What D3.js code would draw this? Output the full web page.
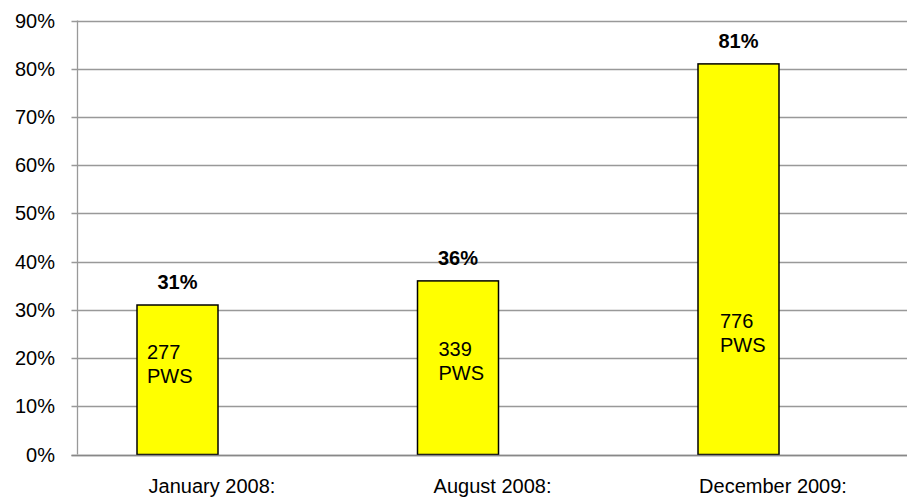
<!DOCTYPE html>
<html>
<head>
<meta charset="utf-8">
<script src="https://cdnjs.cloudflare.com/ajax/libs/d3/7.8.5/d3.min.js"></script>
<style>
  body { margin: 0; background: #fff; }
  svg { display: block; font-family: "Liberation Sans", Arial, sans-serif; }
</style>
</head>
<body>
<div id="vis"></div>
<script>
// chart data
var categories = ["January 2008:", "August 2008:", "December 2009:"];
var shares = [0.31, 0.36, 0.81];
var pwsCounts = [277, 339, 776];
var yTicks = [0, 0.1, 0.2, 0.3, 0.4, 0.5, 0.6, 0.7, 0.8, 0.9];

// hand placed text boxes inside bars (dx from bar left, y as share)
var innerDx = [10, 21, 22];
var innerY = [0.198, 0.204, 0.262];

var width = 907,
	height = 499;

var axisX = 77.5,
	barWidth = 81;

var x = d3.scalePoint()
	.domain(categories)
	.range([177.5, 738.5]);

var y = d3.scaleLinear()
	.domain([0, 0.9])
	.range([454.5, 20.5]);

var svg = d3.select('#vis')
	.append('svg')
	.attr('width', width)
	.attr('height', height);

// gridlines
svg.append('g')
	.selectAll('line')
	.data(yTicks)
	.enter()
	.append('line')
	.attr('x1', axisX - 6)
	.attr('x2', width)
	.attr('y1', function(d) { return Math.round(y(d)) + 0.5; })
	.attr('y2', function(d) { return Math.round(y(d)) + 0.5; })
	.style('stroke', '#999')
	.style('stroke-width', 1.3);

// y labels
svg.append('g')
	.selectAll('text')
	.data(yTicks)
	.enter()
	.append('text')
	.attr('x', 55)
	.attr('y', function(d) { return y(d) + 7; })
	.attr('text-anchor', 'end')
	.style('font-size', '20px')
	.style('fill', '#000')
	.text(d3.format('.0%'));

// bars
var bars = svg.append('g')
	.selectAll('g')
	.data(categories)
	.enter()
	.append('g');

bars.append('rect')
	.attr('x', function(d) { return x(d) - barWidth / 2; })
	.attr('y', function(d, i) { return y(shares[i]); })
	.attr('width', barWidth)
	.attr('height', function(d, i) { return y(0) - y(shares[i]); })
	.style('fill', '#ffff00')
	.style('stroke', '#000')
	.style('stroke-width', 1.5);

// value labels
bars.append('text')
	.attr('x', function(d) { return x(d); })
	.attr('y', function(d, i) { return y(shares[i]) - 16; })
	.attr('text-anchor', 'middle')
	.style('font-size', '20px')
	.style('font-weight', 'bold')
	.text(function(d, i) { return d3.format('.0%')(shares[i]); });

// PWS labels inside the bars
var inner = bars.append('text')
	.style('font-size', '20px')
	.attr('transform', function(d, i) {
		return 'translate(' + (x(d) - barWidth / 2 + innerDx[i]) + ',' + y(innerY[i]) + ')';
	});
inner.append('tspan')
	.attr('x', 0)
	.attr('y', 0)
	.text(function(d, i) { return pwsCounts[i]; });
inner.append('tspan')
	.attr('x', 0)
	.attr('y', 23.5)
	.text('PWS');

// y axis line and 0% base line on top
svg.append('line')
	.attr('x1', axisX).attr('x2', axisX)
	.attr('y1', y(0.9)).attr('y2', y(0))
	.style('stroke', '#999')
	.style('stroke-width', 1.3);
svg.append('line')
	.attr('x1', axisX - 6).attr('x2', width)
	.attr('y1', Math.round(y(0)) + 0.5).attr('y2', Math.round(y(0)) + 0.5)
	.style('stroke', '#888')
	.style('stroke-width', 1.5);

// category labels, kept just inside the bottom edge
svg.append('g')
	.selectAll('text')
	.data(categories)
	.enter()
	.append('text')
	.attr('x', function(d) { return x(d) + 34.5; })
	.attr('y', 493)
	.attr('text-anchor', 'middle')
	.style('font-size', '20px')
	.text(function(d) { return d; });
</script>
</body>
</html>
